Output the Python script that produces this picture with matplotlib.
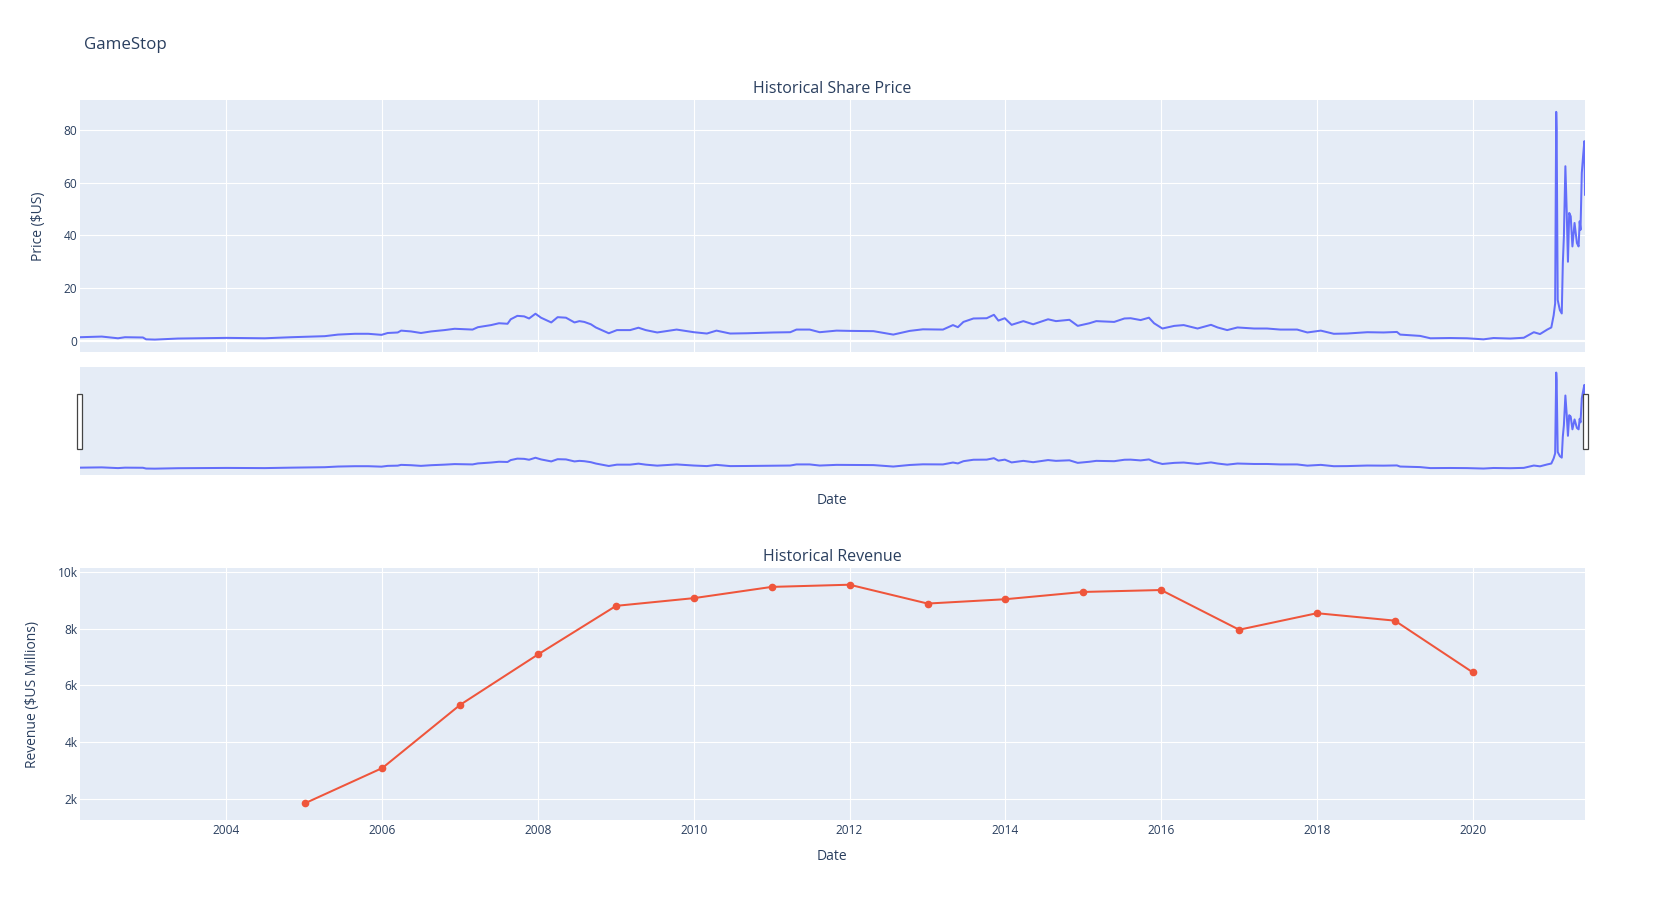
import pandas as pd
import matplotlib.pyplot as plt
from matplotlib.patches import Rectangle
from matplotlib.ticker import FuncFormatter

plt.rcParams['font.family'] = ['Open Sans', 'DejaVu Sans']

# share price (split adjusted)
price_dates = [
    '2002-02-13', '2002-05-26', '2002-08-10', '2002-09-12', '2002-12-05', '2002-12-20',
    '2003-01-30', '2003-05-18', '2004-01-02', '2004-06-28', '2004-10-30', '2005-04-06',
    '2005-06-07', '2005-08-25', '2005-10-27', '2005-12-28', '2006-01-26', '2006-03-14',
    '2006-03-30', '2006-05-15', '2006-07-01', '2006-08-18', '2006-10-19', '2006-12-06',
    '2007-02-28', '2007-03-25', '2007-05-26', '2007-07-02', '2007-08-11', '2007-08-26',
    '2007-09-26', '2007-10-28', '2007-11-20', '2007-12-20', '2008-01-15', '2008-03-03',
    '2008-04-02', '2008-05-11', '2008-06-20', '2008-07-13', '2008-08-05', '2008-09-05',
    '2008-09-28', '2008-11-28', '2009-01-05', '2009-03-08', '2009-04-16', '2009-05-20',
    '2009-07-13', '2009-10-12', '2010-01-01', '2010-03-03', '2010-04-17', '2010-06-20',
    '2010-09-06', '2011-01-09', '2011-03-29', '2011-04-27', '2011-06-28', '2011-08-14',
    '2011-11-01', '2012-01-01', '2012-04-22', '2012-07-24', '2012-10-09', '2012-12-10',
    '2013-03-14', '2013-04-30', '2013-05-23', '2013-06-18', '2013-08-04', '2013-10-05',
    '2013-11-08', '2013-11-29', '2013-12-29', '2014-01-30', '2014-03-26', '2014-05-11',
    '2014-07-20', '2014-08-26', '2014-10-28', '2014-12-06', '2015-01-30', '2015-03-03',
    '2015-05-26', '2015-07-13', '2015-08-11', '2015-09-27', '2015-11-05', '2015-11-29',
    '2016-01-07', '2016-03-03', '2016-04-16', '2016-06-20', '2016-08-22', '2016-09-22',
    '2016-11-06', '2016-12-24', '2017-03-12', '2017-05-12', '2017-07-13', '2017-09-30',
    '2017-11-17', '2018-01-19', '2018-03-21', '2018-05-22', '2018-08-25', '2018-11-09',
    '2019-01-11', '2019-01-26', '2019-04-30', '2019-06-17', '2019-09-17', '2019-12-06',
    '2020-02-21', '2020-04-08', '2020-06-25', '2020-08-28', '2020-10-14', '2020-11-12',
    '2020-12-16', '2021-01-04', '2021-01-15', '2021-01-22', '2021-01-27', '2021-01-29',
    '2021-02-03', '2021-02-13', '2021-02-22', '2021-02-27', '2021-03-04', '2021-03-11',
    '2021-03-17', '2021-03-23', '2021-03-29', '2021-04-05', '2021-04-13', '2021-04-23',
    '2021-05-04', '2021-05-12', '2021-05-17', '2021-05-21', '2021-05-27', '2021-06-02',
    '2021-06-08', '2021-06-11',
]
price_values = [
    1.4, 1.65, 1.0, 1.4, 1.3, 0.6,
    0.5, 0.9, 1.15, 1.0, 1.4, 1.8,
    2.4, 2.7, 2.7, 2.3, 3.0, 3.2,
    3.9, 3.6, 3.0, 3.6, 4.1, 4.6,
    4.3, 5.2, 6.0, 6.7, 6.5, 8.2,
    9.5, 9.3, 8.5, 10.3, 8.8, 7.0,
    9.0, 8.8, 7.0, 7.5, 7.2, 6.3,
    5.1, 2.9, 4.1, 4.1, 5.0, 4.1,
    3.2, 4.3, 3.3, 2.8, 3.9, 2.8,
    2.9, 3.2, 3.3, 4.3, 4.3, 3.3,
    3.9, 3.8, 3.7, 2.4, 3.8, 4.4,
    4.3, 6.0, 5.2, 7.2, 8.5, 8.6,
    9.9, 7.7, 8.6, 6.1, 7.5, 6.3,
    8.2, 7.5, 8.0, 5.7, 6.7, 7.5,
    7.2, 8.5, 8.6, 7.9, 8.8, 6.7,
    4.7, 5.7, 6.0, 4.7, 6.1, 5.1,
    4.1, 5.1, 4.7, 4.7, 4.3, 4.3,
    3.2, 3.9, 2.7, 2.8, 3.3, 3.2,
    3.4, 2.4, 1.9, 1.0, 1.1, 1.0,
    0.6, 1.1, 0.9, 1.2, 3.3, 2.6,
    4.3, 5.1, 9.7, 14.2, 86.8, 80.2,
    15.5, 11.7, 10.4, 29.4, 39.6, 66.2,
    49.7, 30.0, 48.5, 47.2, 35.8, 44.7,
    37.1, 35.8, 45.3, 42.1, 63.7, 70.0,
    75.7, 55.4,
]

# annual revenue, $US millions
revenue_years = ['2005', '2006', '2007', '2008', '2009', '2010', '2011', '2012',
                 '2013', '2014', '2015', '2016', '2017', '2018', '2019', '2020']
revenue_values = [1843, 3092, 5319, 7094, 8806, 9078, 9474, 9551,
                  8887, 9040, 9296, 9364, 7965, 8547, 8285, 6466]

tick_years = ['2004', '2006', '2008', '2010', '2012', '2014', '2016', '2018', '2020']

dates = pd.to_datetime(price_dates)
rev_dates = pd.to_datetime(revenue_years)
ticks = pd.to_datetime(tick_years)

text_col = '#2a3f5f'
bg = '#E5ECF6'

fig = plt.figure(figsize=(16.64, 9), dpi=100)
W, H = 1664, 900


def px_axes(x0, y0, x1, y1):
    return fig.add_axes([x0 / W, 1 - y1 / H, (x1 - x0) / W, (y1 - y0) / H])


ax1 = px_axes(80, 100, 1585, 352)
ax_sl = px_axes(80, 367, 1585, 475)
ax2 = px_axes(80, 568, 1585, 820)

for ax in (ax1, ax_sl, ax2):
    ax.set_facecolor(bg)
    for s in ax.spines.values():
        s.set_visible(False)
    ax.tick_params(length=0, labelsize=8.6, labelcolor=text_col)
    ax.set_xlim(dates[0], dates[-1])
    ax.set_axisbelow(True)

# share price
ax1.plot(dates, price_values, color='#636EFA', lw=1.45)
ax1.set_ylim(-4.2, 91.3)
ax1.set_yticks([0, 20, 40, 60, 80])
ax1.set_xticks(ticks)
ax1.set_xticklabels([])
ax1.grid(color='white', lw=0.8)
ax1.axhline(0, color='white', lw=1.6, zorder=1)
ax1.tick_params(axis='y', pad=2)
ax1.set_ylabel('Price ($US)', fontsize=10, color=text_col)
ax1.yaxis.set_label_coords(-0.0225, 0.5)

# range slider
ax_sl.plot(dates, price_values, color='#636EFA', lw=1.45)
ax_sl.set_ylim(-5.2, 91.8)
ax_sl.set_xticks([])
ax_sl.set_yticks([])
for hx in (-3 / 1505, 1 - 2 / 1505):
    ax_sl.add_patch(Rectangle((hx, 0.245), 5 / 1505, 0.505, transform=ax_sl.transAxes,
                              facecolor='white', edgecolor='#444444', lw=0.9,
                              clip_on=False, zorder=5))

# revenue
ax2.plot(rev_dates, revenue_values, color='#EF553B', lw=1.45, marker='o', markersize=4.5)
ax2.set_ylim(1260, 10140)
ax2.set_yticks([2000, 4000, 6000, 8000, 10000])
ax2.yaxis.set_major_formatter(FuncFormatter(lambda v, p: f'{int(v / 1000)}k'))
ax2.set_xticks(ticks)
ax2.set_xticklabels(tick_years)
ax2.grid(color='white', lw=0.8)
ax2.tick_params(axis='y', pad=1.5)
ax2.tick_params(axis='x', pad=3)
ax2.set_ylabel('Revenue ($US Millions)', fontsize=10, color=text_col)
ax2.yaxis.set_label_coords(-0.0265, 0.5)

# titles and axis titles
fig.text(84 / W, 1 - 45 / H, 'GameStop', fontsize=12.2, color=text_col, va='center')
fig.text(832 / W, 1 - 89 / H, 'Historical Share Price', fontsize=11.5, color=text_col,
         ha='center', va='center')
fig.text(832 / W, 1 - 501 / H, 'Date', fontsize=10, color=text_col, ha='center', va='center')
fig.text(832 / W, 1 - 557 / H, 'Historical Revenue', fontsize=11.5, color=text_col,
         ha='center', va='center')
fig.text(832 / W, 1 - 857 / H, 'Date', fontsize=10, color=text_col, ha='center', va='center')

fig.savefig('out.png', dpi=100, facecolor='white')
